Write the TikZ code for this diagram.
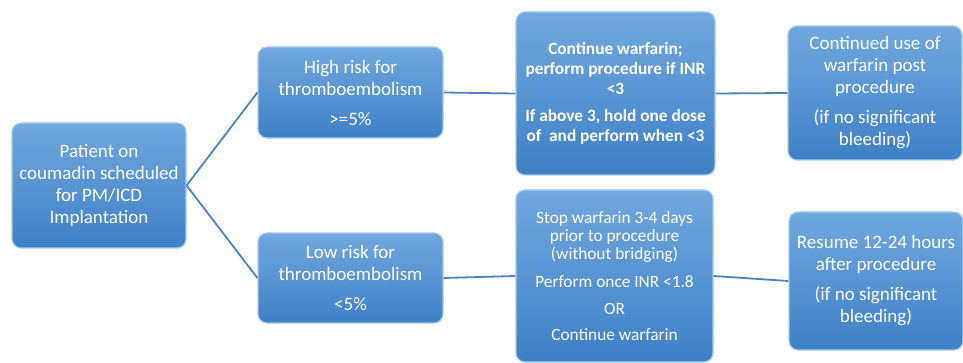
\documentclass[tikz,border=0pt]{standalone}
\usepackage{fontspec}
\setmainfont{Carlito}
\definecolor{boxtop}{RGB}{112,168,222}
\definecolor{boxbot}{RGB}{62,128,197}
\definecolor{boxedge}{RGB}{165,202,236}
\definecolor{linkblue}{RGB}{79,129,189}
\begin{document}
\begin{tikzpicture}[
x=1pt,y=-1pt,
every node/.style={rounded corners=9pt,top color=boxtop,bottom color=boxbot,draw=boxedge,line width=1.2pt,
  text=white,align=center,inner sep=0pt,font=\fontsize{19}{22}\selectfont},
small/.style={font=\fontsize{17.3}{18.3}\selectfont},
boldsmall/.style={font=\fontsize{17.3}{20}\selectfont\bfseries},
link/.style={linkblue,line width=1.8pt}
]
\useasboundingbox (0,0) rectangle (963,363);
\node[minimum width=174pt,minimum height=125pt] (pat) at (99,185.5)
  {Patient on\\coumadin scheduled\\for PM/ICD\\Implantation};
\node[minimum width=185pt,minimum height=91pt] (high) at (350.5,92.5)
  {High risk for\\thromboembolism\\[8pt]>=5\%};
\node[minimum width=185pt,minimum height=90pt] (low) at (350.5,278)
  {Low risk for\\thromboembolism\\[8pt]<5\%};
\node[boldsmall,minimum width=199pt,minimum height=163pt] (cont) at (615.5,93.5)
  {Continue warfarin;\\perform procedure if INR\\<3\\[7pt]If above 3, hold one dose\\of~ and perform when <3};
\node[small,minimum width=197pt,minimum height=172pt] (stop) at (614.5,276)
  {Stop warfarin 3-4 days\\prior to procedure\\(without bridging)\\[9pt]Perform once INR <1.8\\[9pt]OR\\[8pt]Continue warfarin};
\node[minimum width=174pt,minimum height=134pt] (post) at (875,93)
  {Continued use of\\warfarin post\\procedure\\[8pt](if no significant\\bleeding)};
\node[minimum width=174pt,minimum height=138pt] (resume) at (876,281)
  {Resume 12-24 hours\\after procedure\\[8pt](if no significant\\bleeding)};
\draw[link] (pat.east) -- (high.west);
\draw[link] (pat.east) -- (low.west);
\draw[link] (high.east) -- (cont.west);
\draw[link] (cont.east) -- (post.west);
\draw[link] (low.east) -- (stop.west);
\draw[link] (stop.east) -- (resume.west);
\end{tikzpicture}
\end{document}
